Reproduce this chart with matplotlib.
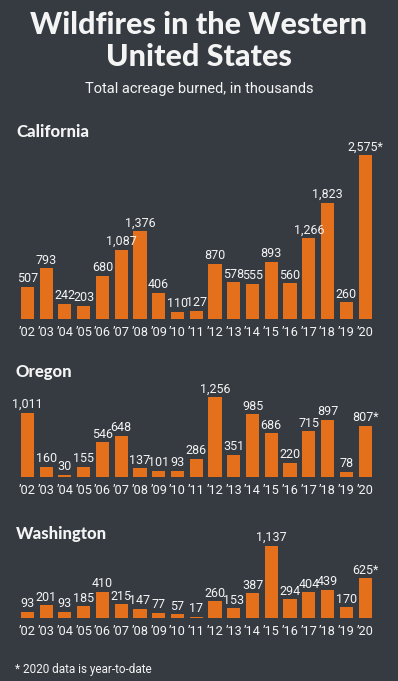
import matplotlib
matplotlib.use("Agg")
import matplotlib.pyplot as plt
from matplotlib import font_manager as fm

years = ["’02", "’03", "’04", "’05", "’06", "’07", "’08", "’09", "’10", "’11",
         "’12", "’13", "’14", "’15", "’16", "’17", "’18", "’19", "’20"]
california = [507, 793, 242, 203, 680, 1087, 1376, 406, 110, 127,
              870, 578, 555, 893, 560, 1266, 1823, 260, 2575]
oregon = [1011, 160, 30, 155, 546, 648, 137, 101, 93, 286,
          1256, 351, 985, 686, 220, 715, 897, 78, 807]
washington = [93, 201, 93, 185, 410, 215, 147, 77, 57, 17,
              260, 153, 387, 1137, 294, 404, 439, 170, 625]
states = ["California", "Oregon", "Washington"]

BG = "#363b42"
BAR = "#e5701b"
FG = "#f4f4f4"

W, H = 398, 681
fig = plt.figure(figsize=(W / 100, H / 100), dpi=100)
fig.patch.set_facecolor(BG)

avail = {f.name for f in fm.fontManager.ttflist}
narrow = "Roboto" if "Roboto" in avail else "DejaVu Sans"
heavy = "Lato" if "Lato" in avail else "DejaVu Sans"

def fy(y):
    return 1 - y / H

fig.text(0.5, fy(25), "Wildfires in the Western", ha="center", va="center",
         color=FG, fontsize=22, fontweight="black", family=heavy)
fig.text(0.5, fy(57), "United States", ha="center", va="center",
         color=FG, fontsize=22, fontweight="black", family=heavy)
fig.text(0.5, fy(89), "Total acreage burned, in thousands", ha="center", va="center",
         color=FG, fontsize=10.5, family=narrow)

scale = 0.0637  # px per thousand acres
panels = [(california, 319, 140, 132), (oregon, 477, 390, 372), (washington, 618, 540, 534)]
left_px, right_px = 18, 374.5

for name, (vals, base, top, ty) in zip(states, panels):
    ax = fig.add_axes([left_px / W, 1 - base / H, (right_px - left_px) / W, (base - top) / H])
    ax.set_facecolor("none")
    ax.set_xlim(-0.5, len(vals) - 0.5)
    ax.set_ylim(0, (base - top) / scale)
    x = list(range(len(vals)))
    ax.bar(x, vals, width=0.7, color=BAR, zorder=2)
    for i, v in enumerate(vals):
        lab = f"{v:,}" + ("*" if i == len(vals) - 1 else "")
        ax.annotate(lab, (i, v), xytext=(0, 1.2), textcoords="offset points",
                    ha="center", va="bottom", color=FG, fontsize=9.0,
                    family=narrow, annotation_clip=False)
    ax.set_xticks(x)
    ax.set_xticklabels(years, color=FG, fontsize=9.2, family=narrow)
    ax.tick_params(axis="x", length=0, pad=5)
    ax.set_yticks([])
    for s in ax.spines.values():
        s.set_visible(False)
    fig.text(16 / W, fy(ty), name, ha="left", va="center", color=FG,
             fontsize=12, fontweight="black", family=heavy)

fig.text(15 / W, fy(670), "* 2020 data is year-to-date", ha="left", va="center",
         color=FG, fontsize=8.5, family=narrow)

fig.savefig("out.png", dpi=100, facecolor=BG)
